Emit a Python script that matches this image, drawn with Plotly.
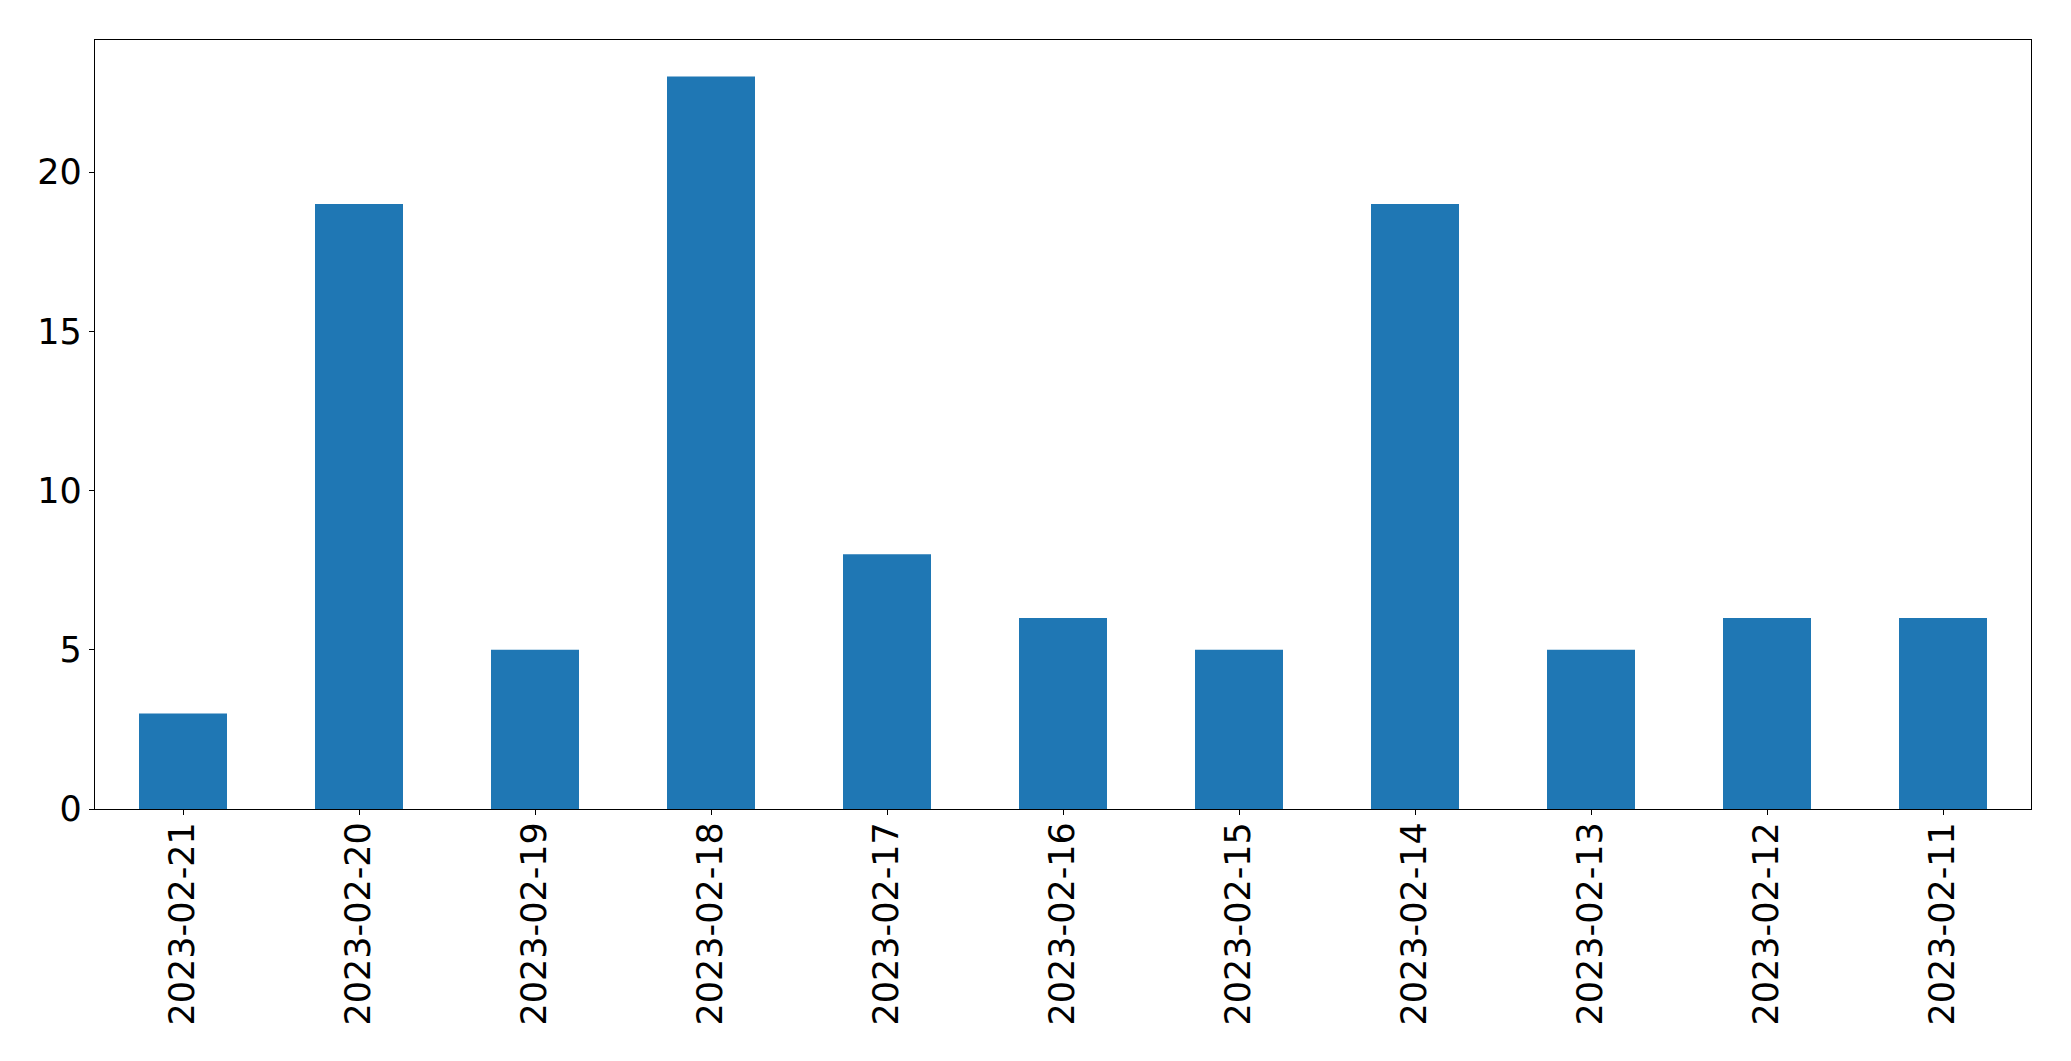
import plotly.graph_objects as go

dates = ["2023-02-21", "2023-02-20", "2023-02-19", "2023-02-18", "2023-02-17",
         "2023-02-16", "2023-02-15", "2023-02-14", "2023-02-13", "2023-02-12",
         "2023-02-11"]
counts = [3, 19, 5, 23, 8, 6, 5, 19, 5, 6, 6]
y_ticks = [0, 5, 10, 15, 20]

fig = go.Figure(go.Bar(x=dates, y=counts, width=0.5, marker=dict(color="#1f77b4", line=dict(width=0))))

font = dict(family="DejaVu Sans", size=35, color="black")
# page body has an 8px default margin; size/margins compensate for it
fig.update_layout(
    width=2055, height=1045,
    margin=dict(l=86.5, r=31.5, t=31.5, b=243.7, pad=0),
    plot_bgcolor="white", paper_bgcolor="white",
    showlegend=False,
    font=font,
)
fig.update_xaxes(type="category", range=[-0.5, len(dates) - 0.5], tickangle=-90,
                 showline=True, linecolor="black", linewidth=1.3, mirror=True,
                 ticks="outside", ticklen=5, tickwidth=1.3, tickcolor="black",
                 ticklabelstandoff=-7,
                 showgrid=False, zeroline=False, tickfont=font)
fig.update_yaxes(range=[0, 24.15], tickvals=y_ticks,
                 showline=True, linecolor="black", linewidth=1.3, mirror=True,
                 ticks="outside", ticklen=5, tickwidth=1.3, tickcolor="black",
                 showgrid=False, zeroline=False, tickfont=font)

fig.write_html("out.html")
